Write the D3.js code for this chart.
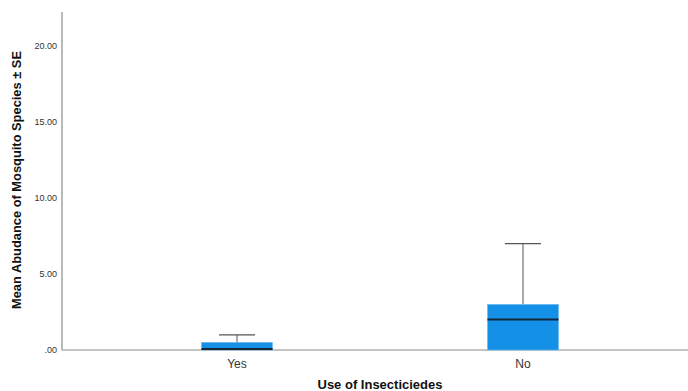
<!DOCTYPE html>
<html>
<head>
<meta charset="utf-8">
<script src="https://cdn.jsdelivr.net/npm/d3@7"></script>
<style>
  body { margin: 0; background: #fff; }
  text { font-family: Arial, "Liberation Sans", sans-serif; }
</style>
</head>
<body>
<div id="vis"></div>
<script>
const WIDTH = 688;
const HEIGHT = 391;

// data
const categorias = ["Yes", "No"];
const minimos = [0, 0];
const q1s = [0, 0];
const medianas = [0, 2];
const q3s = [0.5, 3];
const maximos = [1, 7];
const yTicks = [0, 5, 10, 15, 20];

const datos = categorias.map((c, i) => ({
  cat: c, min: minimos[i], q1: q1s[i], med: medianas[i], q3: q3s[i], max: maximos[i]
}));

const SVG = d3.select("#vis").append("svg")
  .attr("width", WIDTH).attr("height", HEIGHT);

const escalaY = d3.scaleLinear().domain([0, 20]).range([350, 46]);
const escalaX = d3.scaleBand().domain(categorias).range([94, 666]);
const anchoCaja = 71;

// ejes
SVG.append("line")
  .attr("x1", 62).attr("x2", 62)
  .attr("y1", 12).attr("y2", escalaY(0))
  .attr("stroke", "#8c8c8c").attr("stroke-width", 1.2);
SVG.append("line")
  .attr("x1", 62).attr("x2", WIDTH)
  .attr("y1", escalaY(0)).attr("y2", escalaY(0))
  .attr("stroke", "#8c8c8c").attr("stroke-width", 1.2);

SVG.selectAll(".ytick")
  .data(yTicks)
  .join("text")
  .attr("class", "ytick")
  .attr("x", 57)
  .attr("y", d => escalaY(d) + 3)
  .attr("text-anchor", "end")
  .attr("font-size", 9)
  .attr("fill", "#333")
  .text(d => d === 0 ? ".00" : d.toFixed(2));

SVG.append("text")
  .attr("transform", "translate(21, 180) rotate(-90)")
  .attr("text-anchor", "middle")
  .attr("font-size", 12.5)
  .attr("font-weight", "bold")
  .attr("fill", "#111")
  .attr("textLength", 258)
  .attr("lengthAdjust", "spacingAndGlyphs")
  .text("Mean Abudance of Mosquito Species ± SE");

// cajas
const G = SVG.selectAll(".caja")
  .data(datos)
  .join("g")
  .attr("class", "caja")
  .attr("transform", d => `translate(${escalaX(d.cat) + escalaX.bandwidth() / 2}, 0)`);

G.append("line")
  .attr("x1", 0).attr("x2", 0)
  .attr("y1", d => escalaY(d.q3)).attr("y2", d => escalaY(d.max))
  .attr("stroke", "#555").attr("stroke-width", 1);
G.append("line")
  .attr("x1", -18).attr("x2", 18)
  .attr("y1", d => escalaY(d.max)).attr("y2", d => escalaY(d.max))
  .attr("stroke", "#555").attr("stroke-width", 1.2);
G.append("rect")
  .attr("x", -anchoCaja / 2)
  .attr("width", anchoCaja)
  .attr("y", d => escalaY(d.q3))
  .attr("height", d => escalaY(d.q1) - escalaY(d.q3))
  .attr("fill", "#1490e6")
  .attr("stroke", "#6cbaf0").attr("stroke-width", 0.6);
G.append("line")
  .attr("x1", -anchoCaja / 2).attr("x2", anchoCaja / 2)
  .attr("y1", d => escalaY(d.med) - (d.med === 0 ? 1 : 0))
  .attr("y2", d => escalaY(d.med) - (d.med === 0 ? 1 : 0))
  .attr("stroke", "#13273a").attr("stroke-width", 2);

G.append("text")
  .attr("y", 368)
  .attr("text-anchor", "middle")
  .attr("font-size", 12)
  .attr("fill", "#333")
  .text(d => d.cat);

SVG.append("text")
  .attr("x", 380).attr("y", 389)
  .attr("text-anchor", "middle")
  .attr("font-size", 13)
  .attr("font-weight", "bold")
  .attr("fill", "#111")
  .text("Use of Insecticiedes");
</script>
</body>
</html>
